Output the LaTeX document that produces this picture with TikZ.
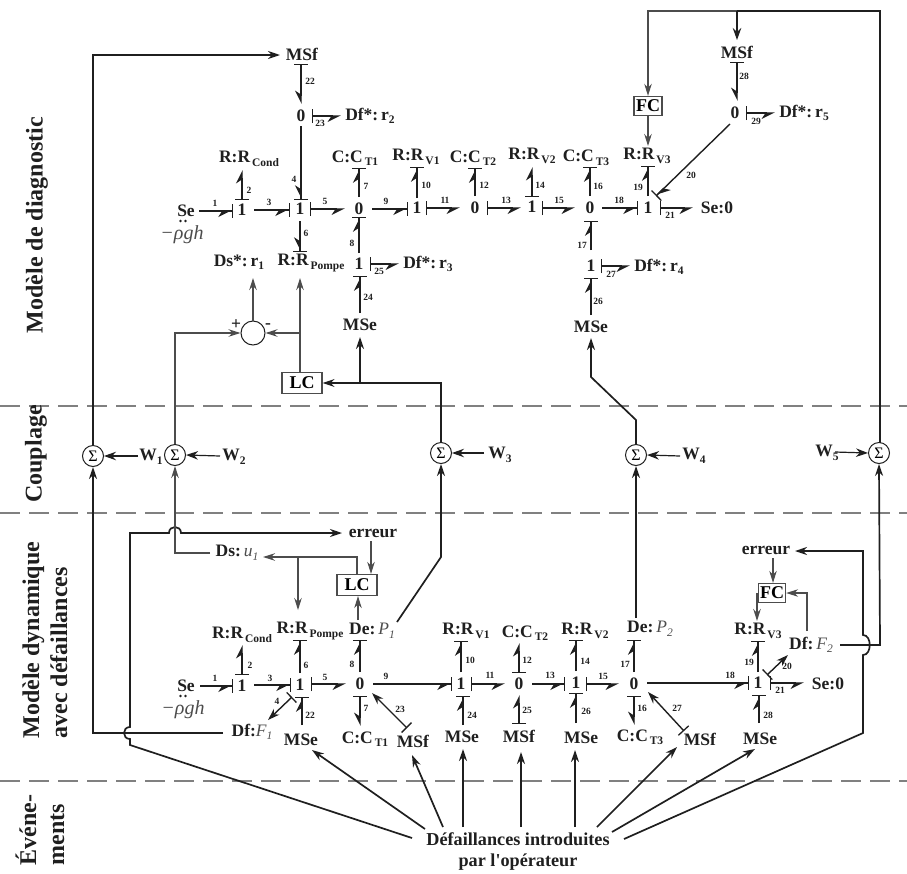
\documentclass[tikz,border=0pt]{standalone}
\usepackage{fontspec}
\setmainfont{Liberation Serif}[Ligatures=TeXOff]
\usetikzlibrary{arrows.meta,calc}
\definecolor{ink}{gray}{0.12}
\definecolor{thinink}{gray}{0.30}
\definecolor{dashc}{gray}{0.50}
\newcommand{\fs}[1]{\fontsize{#1}{#1}\selectfont}
\tikzset{
  x=1pt,y=-1pt,
  txt/.style={inner sep=0pt,font=\bfseries\fs{17.5},text=ink},
  lab/.style={inner sep=0pt,font=\bfseries\fs{9.5},text=ink},
  side/.style={inner sep=0pt,rotate=90,align=left,font=\bfseries\fontsize{24}{28}\selectfont,text=ink},
  sumc/.style={draw=ink,circle,line width=1pt,minimum size=21pt,inner sep=0pt,font=\fs{16}},
  ctrl/.style={draw=thinink,line width=1.2pt,minimum width=40pt,minimum height=21pt,inner sep=0pt,font=\bfseries\fs{18}},
  ctrld/.style={draw=thinink,line width=1.3pt,minimum width=28pt,minimum height=19pt,inner sep=0pt,font=\bfseries\fs{18}},
  bondr/.style={line width=1.4pt,draw=ink},
  hre/.style={bondr,-{Stealth[harpoon,swap,length=12pt,width=12pt]Bar[width=14pt,line width=1.3pt]}},
  hle/.style={bondr,-{Stealth[harpoon,length=12pt,width=12pt]Bar[width=14pt,line width=1.3pt]}},
  srt/.style={bondr,{Bar[width=14pt,line width=1.3pt]}-{Stealth[harpoon,swap,length=12pt,width=12pt]}},
  slt/.style={bondr,{Bar[width=14pt,line width=1.3pt]}-{Stealth[harpoon,length=12pt,width=12pt]}},
  sfl/.style={bondr,{Bar[width=14pt,line width=1.3pt]}-{Stealth[length=12pt,width=8pt]}},
  sig/.style={line width=1.7pt,draw=ink,-{Stealth[length=12pt,width=8pt]}},
  sign/.style={line width=1.7pt,draw=ink},
  warrow/.style={line width=1.2pt,draw=ink,-{Stealth[length=12pt,width=8.5pt]}},
  tarrow/.style={line width=1.1pt,draw=thinink,-{Stealth[length=12pt,width=7.5pt]}},
  dashline/.style={line width=1.2pt,draw=dashc,dash pattern=on 20pt off 9pt},
  sedot/.style={circle,fill=ink,inner sep=0pt,minimum size=2.6pt},
}
\newcommand{\Rsub}[2]{#1\raisebox{-3.5pt}{\fs{11.5}\,#2}}
\newcommand{\sbb}[1]{\raisebox{-3.5pt}{\fs{11.5}#1}}
\newcommand{\itv}[2]{{\mdseries\itshape\color{thinink}#1\raisebox{-3.5pt}{\fs{11.5}#2}}}
\newcommand{\bnd}[5]{\draw[#1] ($(#2)+(#3)$) -- ($(#4)+(#5)$);}
\newcommand{\nm}[3]{\node[lab] at (#1,#2) {#3};}
\begin{document}
\begin{tikzpicture}
\useasboundingbox (0,0) rectangle (907,873);
% zone separators
\coordinate (d1a) at (0,406); \coordinate (d1b) at (907,406);
\coordinate (d2a) at (0,513); \coordinate (d2b) at (907,513);
\coordinate (d3a) at (0,781); \coordinate (d3b) at (907,781);
\draw[dashline] (d1a) -- (d1b);
\draw[dashline] (d2a) -- (d2b);
\draw[dashline] (d3a) -- (d3b);
% side titles
\node[side] (t1) at (37,225) {Modèle de diagnostic};
\node[side] (t2) at (36,454) {Couplage};
\node[side] (t3) at (45,640) {Modèle dynamique\\avec défaillances};
\node[side] (t4) at (40,830) {Événe-\\ments};

%%% DIAGNOSTIC MODEL
\node[txt] (tMSfA) at (302,54) {MSf};
\node[txt] (tzA) at (301,116) {0};
\node[txt] (tDfr2) at (370,116) {Df*:\,r\sbb{2}};
\node[txt] (tRcond) at (249,159) {\Rsub{R:R}{Cond}};
\node[txt] (tSe) at (186,211) {Se};
\node[sedot] (tSd1) at (180.5,221) {};
\node[sedot] (tSd2) at (185.5,221) {};
\node[inner sep=0pt,text=thinink,font=\itshape\fs{20}] (trho) at (182,235) {−ρgh};
\node[txt] (toA) at (242,210) {1};
\node[txt] (toB) at (300,209) {1};
\node[txt] (tzB) at (359,209) {0};
\node[txt] (tCT1) at (355,158) {\Rsub{C:C}{T1}};
\node[txt] (toC) at (417,208) {1};
\node[txt] (tRV1) at (416,157) {\Rsub{R:R}{V1}};
\node[txt] (tzC) at (475,208) {0};
\node[txt] (tCT2) at (473,158) {\Rsub{C:C}{T2}};
\node[txt] (toD) at (532,207) {1};
\node[txt] (tRV2) at (532,156) {\Rsub{R:R}{V2}};
\node[txt] (tzD) at (590,208) {0};
\node[txt] (tCT3) at (586,158) {\Rsub{C:C}{T3}};
\node[txt] (toE) at (648,208) {1};
\node[txt] (tRV3) at (647,156) {\Rsub{R:R}{V3}};
\node[txt] (tSez) at (717,208) {Se:0};
\node[txt] (toF) at (359,264) {1};
\node[txt] (tDfr3) at (428,264) {Df*:\,r\sbb{3}};
\node[txt] (tRP) at (311,263) {\Rsub{R:R}{Pompe}};
\node[txt] (tDsr1) at (239,262) {Ds*:\,r\sbb{1}};
\node[txt] (tMSeA) at (360,325) {MSe};
\node[txt] (toG) at (591,266) {1};
\node[txt] (tDfr4) at (659,267) {Df*:\,r\sbb{4}};
\node[txt] (tMSeB) at (591,327) {MSe};
\node[txt] (tMSfB) at (737,52) {MSf};
\node[txt] (tzE) at (735,113) {0};
\node[txt] (tDfr5) at (804,113) {Df*:\,r\sbb{5}};
\node[ctrld] (tFC) at (648,106) {FC};
\node[ctrl] (tLC) at (302,383) {LC};
\node[circle,draw=ink,line width=1pt,minimum size=24pt,inner sep=0pt] (tsum) at (253,333) {};
\node[txt] (tplus) at (236,325) {+};
\node[txt] (tminus) at (268,326) {-};

%%% COUPLING
\node[sumc] (S1) at (93,456) {Σ};
\node[sumc] (S2) at (175,455) {Σ};
\node[sumc] (S3) at (441,453) {Σ};
\node[sumc] (S4) at (636,455) {Σ};
\node[sumc] (S5) at (879,453) {Σ};
\node[txt] (W1) at (151,457) {W\sbb{1}};
\node[txt] (W2) at (234,457) {W\sbb{2}};
\node[txt] (W3) at (500,455) {W\sbb{3}};
\node[txt] (W4) at (694,456) {W\sbb{4}};
\node[txt] (W5) at (827,453) {W\sbb{5}};

%%% FAULT MODEL
\node[txt] (berrA) at (373,533) {erreur};
\node[txt] (bDsu) at (237,553) {Ds:\,\itv{u}{1}};
\node[ctrl] (bLC) at (357,585) {LC};
\node[txt] (bDeP1) at (372,631) {De:\,\itv{P}{1}};
\node[txt] (bRP) at (310,631) {\Rsub{R:R}{Pompe}};
\node[txt] (bRcond) at (242,635) {\Rsub{R:R}{Cond}};
\node[txt] (bSe) at (186,686) {Se};
\node[sedot] (bSd1) at (180.5,696) {};
\node[sedot] (bSd2) at (185.5,696) {};
\node[inner sep=0pt,text=thinink,font=\itshape\fs{20}] (brho) at (183,710) {−ρgh};
\node[txt] (boA) at (242,686) {1};
\node[txt] (boB) at (300,685) {1};
\node[txt] (bzA) at (360,684) {0};
\node[txt] (boC) at (461,684) {1};
\node[txt] (bzB) at (519,684) {0};
\node[txt] (boD) at (576,683) {1};
\node[txt] (bzC) at (634,684) {0};
\node[txt] (boE) at (758,683) {1};
\node[txt] (bSez) at (828,684) {Se:0};
\node[txt] (bDfF1) at (252,732) {Df:\itv{F}{1}};
\node[txt] (bMSeA) at (301,740) {MSe};
\node[txt] (bCT1) at (365,739) {\Rsub{C:C}{T1}};
\node[txt] (bMSfA) at (413,741) {MSf};
\node[txt] (bMSeB) at (462,737) {MSe};
\node[txt] (bMSfB) at (519,736) {MSf};
\node[txt] (bMSeC) at (581,738) {MSe};
\node[txt] (bCT3) at (640,737) {\Rsub{C:C}{T3}};
\node[txt] (bMSfC) at (700,739) {MSf};
\node[txt] (bMSeD) at (760,739) {MSe};
\node[txt] (bRV1) at (466,631) {\Rsub{R:R}{V1}};
\node[txt] (bCT2) at (525,633) {\Rsub{C:C}{T2}};
\node[txt] (bRV2) at (585,631) {\Rsub{R:R}{V2}};
\node[txt] (bDeP2) at (650,629) {De:\,\itv{P}{2}};
\node[txt] (bRV3) at (758,631) {\Rsub{R:R}{V3}};
\node[txt] (bDfF2) at (811,645) {Df:\,\itv{F}{2}};
\node[txt] (berrB) at (766,550) {erreur};
\node[ctrld,minimum width=27pt] (bFC) at (772,593) {FC};
\node[txt,align=center,font=\bfseries\fontsize{18.2}{21}\selectfont] (dfl) at (518,852) {Défaillances introduites\\par l'opérateur};

%%% diagnostic bonds
\bnd{hre}{tSe}{13,0}{toA}{-9,1}
\bnd{hre}{toA}{12,0}{toB}{-10,1}
\bnd{srt}{toB}{10,0}{tzB}{-14,0}
\bnd{hre}{tzB}{13,0}{toC}{-9,1}
\bnd{srt}{toC}{9,0}{tzC}{-15,0}
\bnd{srt}{tzC}{12,0}{toD}{-11,1}
\bnd{srt}{toD}{10,1}{tzD}{-15,0}
\bnd{hre}{tzD}{12,0}{toE}{-10,0}
\bnd{srt}{toE}{12,0}{tSez}{-24,0}
\bnd{slt}{toA}{0,-10}{tRcond}{-7,11}
\bnd{hre}{tzA}{0,10}{toB}{1,-9}
\bnd{hre}{toB}{0,12}{tRP}{-11,-11}
\bnd{srt}{tMSfA}{-1,10}{tzA}{0,-12}
\bnd{srt}{tzA}{11,0}{tDfr2}{-29,0}
\bnd{hle}{tzB}{0,-12}{tCT1}{4,10}
\bnd{hle}{toF}{0,-11}{tzB}{0,8}
\bnd{hle}{tMSeA}{0,-12}{toF}{1,12}
\bnd{srt}{toF}{11,0}{tDfr3}{-29,0}
\bnd{hle}{toC}{0,-10}{tRV1}{1,10}
\bnd{hle}{tzC}{0,-12}{tCT2}{2,10}
\bnd{slt}{toD}{0,-10}{tRV2}{0,11}
\bnd{hle}{tzD}{0,-12}{tCT3}{4,9}
\bnd{hle}{toG}{0,-16}{tzD}{1,13}
\bnd{hle}{tMSeB}{0,-12}{toG}{0,12}
\bnd{srt}{toG}{10,0}{tDfr4}{-29,-1}
\bnd{hle}{toE}{0,-12}{tRV3}{1,10}
\bnd{hle}{tzE}{-5,11}{toE}{8,-12}
\bnd{srt}{tMSfB}{0,10}{tzE}{2,-12}
\bnd{srt}{tzE}{11,0}{tDfr5}{-29,0}
% bond numbers, top
\nm{215}{203}{1}\nm{249}{190}{2}\nm{269}{202}{3}\nm{294}{179}{4}\nm{325}{201}{5}\nm{306}{233}{6}
\nm{366}{186}{7}\nm{352}{243}{8}\nm{386}{201}{9}\nm{426}{185}{10}\nm{445}{200}{11}\nm{484}{185}{12}
\nm{506}{200}{13}\nm{540}{185}{14}\nm{559}{200}{15}\nm{598}{186}{16}\nm{582}{245}{17}\nm{619}{200}{18}
\nm{638}{187}{19}\nm{691}{175}{20}\nm{670}{215}{21}\nm{310}{81}{22}\nm{320}{123}{23}\nm{368}{297}{24}
\nm{379}{271}{25}\nm{598}{301}{26}\nm{611}{274}{27}\nm{744}{76}{28}\nm{756}{121}{29}

%%% top signals
\coordinate (cTL) at (93,55);
\coordinate (cTR) at (880,11);
\coordinate (cTM) at (737,11);
\coordinate (cTF) at (648,11);
\coordinate (cSL) at (175,333);
\coordinate (cLCb) at (300,333);
\coordinate (cM1) at (636,420);
\coordinate (cM2) at (591,377);
\coordinate (cS3a) at (441,383);
\coordinate (cS3b) at (360,383);
\draw[sig] (S1.north) -- (cTL) -- ($(tMSfA)+(-22,1)$);
\draw[sign] (S5.north) -- (S5.north -| cTR) -- (cTR) -- (cTM);
\draw[tarrow,line width=1.4pt] (cTM) -- (cTF) -- (tFC.north);
\draw[warrow] (cTM) -- ($(tMSfB)+(0,-12)$);
\draw[tarrow] (tFC.south) -- ($(tRV3)+(1,-10)$);
\draw[tarrow] (S2.north) -- (cSL) -- (tsum.west);
\draw[tarrow] (tLC.north -| cLCb) -- ($(tRP)+(-11,15)$);
\draw[tarrow] (cLCb) -- (tsum.east);
\draw[tarrow] (tsum.north) -- ($(tDsr1)+(14,16)$);
\draw[sig] (S4.north) -- (cM1) -- (cM2) -- ($(tMSeB)+(0,11)$);
\draw[sign] (S3.north) -- (cS3a) -- (cS3b);
\draw[sig] (cS3b) -- ($(tMSeA)+(0,12)$);
\draw[sig,line width=1.3pt] (cS3b) -- (tLC.east);
%%% W
\draw[warrow] ($(W1)+(-13,-1)$) -- (S1.east);
\draw[warrow] ($(W2)+(-14,-1)$) -- (S2.east);
\draw[warrow] ($(W3)+(-16,-2)$) -- (S3.east);
\draw[warrow] ($(W4)+(-14,0)$) -- (S4.east);
\draw[warrow] ($(W5)+(8,-1)$) -- (S5.west);

%%% lower signals
\coordinate (cF1) at (93,733);
\coordinate (cJd) at (130,745);
\coordinate (cJa) at (130,739);
\coordinate (cJb) at (130,727);
\coordinate (cJc) at (130,533);
\coordinate (cJe) at (169,533);
\coordinate (cJf) at (181,533);
\coordinate (cDs) at (175,553);
\coordinate (cLe) at (357,557);
\coordinate (cBr) at (298,557);
\coordinate (cP1) at (441,557);
\coordinate (cEa) at (863,733);
\coordinate (cEb) at (863,655);
\coordinate (cEc) at (863,635);
\coordinate (cEd) at (863,551);
\coordinate (cF2) at (880,645);
\coordinate (cFb) at (807,593);
\draw[sig] ($(bDfF1)+(-29,1)$) -- (cF1) -- (S1.south);
\draw[sig] ($(dfl)+(-106,-14)$) -- (cJd) -- (cJa)
   .. controls +(-8,0) and ($(cJb)+(-8,0)$) .. (cJb) -- (cJc) -- (cJe)
   .. controls +(0,-8) and ($(cJf)+(0,-8)$) .. (cJf) -- ($(berrA)+(-31,0)$);
\draw[tarrow] ($(bDsu)+(-27,0)$) -- (cDs) -- (S2.south);
\draw[tarrow] (bLC.north -| cLe) -- (cLe) -- ($(bDsu)+(26,4)$);
\draw[tarrow] (cBr) -- ($(bRP)+(-12,-21)$);
\draw[tarrow] ($(berrA)+(-2,8)$) -- ($(bLC.north)+(14,0)$);
\draw[tarrow] ($(bDeP1)+(-14,-11)$) -- ($(bLC.south)+(1,0)$);
\draw[sig] ($(bDeP1)+(25,-9)$) -- (cP1) -- (S3.south);
\draw[sig] ($(bDeP2)+(-14,-11)$) -- (S4.south);
\draw[sig] ($(bDfF2)+(29,0)$) -- (cF2) -- (S5.south);
\draw[sig] ($(dfl)+(106,-13)$) -- (cEa) -- (cEb)
   .. controls +(9,0) and ($(cEc)+(9,0)$) .. (cEc) -- (cEd) -- ($(berrB)+(29,1)$);
\draw[tarrow] ($(berrB)+(7,8)$) -- ($(bFC.north)+(1,0)$);
\draw[tarrow,line width=1.4pt] ($(bFC)+(-15,0)$) -- ($(bRV3)+(-1,-10)$);
\draw[tarrow] ($(bDfF2)+(-4,-14)$) -- (cFb) -- (bFC.east);

%%% lower bonds
\bnd{hre}{bSe}{14,0}{boA}{-9,0}
\bnd{slt}{boA}{0,-11}{bRcond}{0,10}
\bnd{hre}{boA}{12,-1}{boB}{-9,0}
\bnd{srt}{boB}{11,-1}{bzA}{-14,0}
\bnd{hre}{bzA}{13,0}{boC}{-9,0}
\bnd{srt}{boC}{10,0}{bzB}{-14,0}
\bnd{hre}{bzB}{13,0}{boD}{-11,1}
\bnd{srt}{boD}{10,1}{bzC}{-15,0}
\bnd{hre}{bzC}{13,-1}{boE}{-9,0}
\bnd{srt}{boE}{12,0}{bSez}{-24,-1}
\bnd{hle}{boB}{0,-12}{bRP}{-10,9}
\bnd{hle}{bzA}{0,-12}{bDeP1}{-12,9}
\bnd{sfl}{boB}{-8,12}{bDfF1}{16,-12}
\bnd{hle}{bMSeA}{1,-15}{boB}{2,12}
\bnd{srt}{bzA}{0,12}{bCT1}{-5,-13}
\bnd{sfl}{bMSfA}{-6,-13}{bzA}{12,9}
\bnd{hle}{bMSeB}{1,-12}{boC}{2,12}
\bnd{hle}{boC}{0,-12}{bRV1}{-5,10}
\bnd{slt}{bzB}{0,-11}{bCT2}{-6,10}
\bnd{slt}{bMSfB}{0,-12}{bzB}{0,11}
\bnd{hle}{boD}{0,-12}{bRV2}{-9,9}
\bnd{hle}{bMSeC}{-5,-15}{boD}{0,10}
\bnd{hle}{bzC}{0,-12}{bDeP2}{-16,11}
\bnd{srt}{bzC}{0,12}{bCT3}{-6,-12}
\bnd{sfl}{bMSfC}{-16,-8}{bzC}{14,8}
\bnd{hle}{boE}{0,-11}{bRV3}{0,10}
\bnd{hle}{bMSeD}{-1,-16}{boE}{1,12}
\bnd{sfl}{boE}{9,-8}{bDfF2}{-23,10}
% bond numbers, bottom
\nm{215}{678}{1}\nm{250}{665}{2}\nm{270}{678}{3}\nm{277}{701}{4}\nm{325}{677}{5}\nm{306}{665}{6}
\nm{366}{708}{7}\nm{352}{664}{8}\nm{386}{676}{9}\nm{470}{660}{10}\nm{490}{675}{11}\nm{527}{660}{12}
\nm{550}{675}{13}\nm{585}{661}{14}\nm{603}{676}{15}\nm{642}{708}{16}\nm{625}{664}{17}\nm{730}{675}{18}
\nm{749}{662}{19}\nm{787}{666}{20}\nm{780}{690}{21}\nm{310}{715}{22}\nm{400}{709}{23}\nm{472}{715}{24}
\nm{527}{710}{25}\nm{586}{711}{26}\nm{677}{708}{27}\nm{768}{715}{28}

%%% fault arrows from the operator
\draw[sig] ($(dfl)+(-93,-23)$) -- ($(bMSeA)+(11,10)$);
\draw[sig] ($(dfl)+(-75,-25)$) -- ($(bMSfA)+(-1,14)$);
\draw[sig] ($(dfl)+(-55,-25)$) -- ($(bMSeB)+(1,12)$);
\draw[sig] ($(dfl)+(3,-25)$) -- ($(bMSfB)+(2,16)$);
\draw[sig] ($(dfl)+(57,-25)$) -- ($(bMSeC)+(-6,12)$);
\draw[sig] ($(dfl)+(79,-25)$) -- ($(bMSfC)+(-23,8)$);
\draw[sig] ($(dfl)+(94,-20)$) -- ($(bMSeD)+(-5,10)$);
\end{tikzpicture}
\end{document}
